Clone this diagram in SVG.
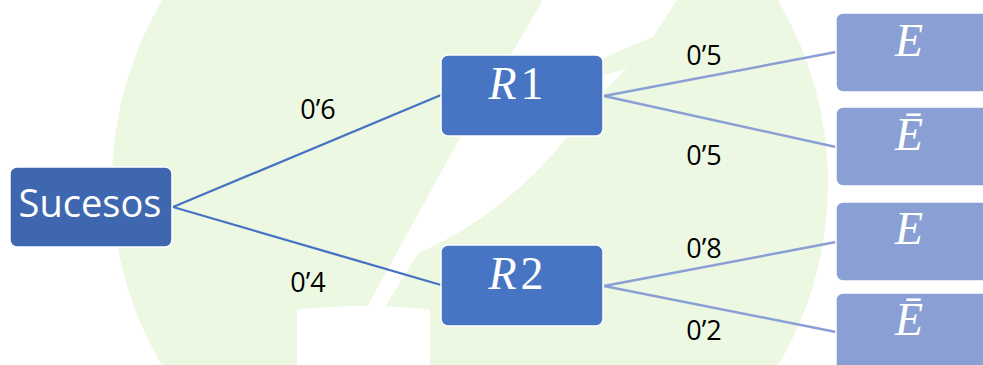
<svg xmlns="http://www.w3.org/2000/svg" width="983" height="365" viewBox="0 0 983 365">
  <style>
    .bg { fill: #EDF8E2; }
    .cut { fill: #FFFFFF; }
    .main { fill: #3F67B0; stroke: #FFFFFF; stroke-width: 1.5; }
    .mid { fill: #4775C4; stroke: #FFFFFF; stroke-width: 1.5; }
    .leaf { fill: #8A9FD4; stroke: #FFFFFF; stroke-width: 1.5; }
    .c1 { stroke: #4472C4; stroke-width: 2.3; fill: none; }
    .c2 { stroke: #8A9FD4; stroke-width: 2.5; fill: none; }
    .lbl { font-family: "Open Sans", "Noto Sans", sans-serif; font-size: 27px; fill: #000000; text-anchor: middle; }
    .suc { font-family: "Open Sans", "Noto Sans", sans-serif; font-size: 38px; fill: #FFFFFF; text-anchor: middle; }
    .math { font-family: "Liberation Serif", "DejaVu Serif", serif; font-size: 46px; fill: #FFFFFF; text-anchor: middle; }
    .it { font-style: italic; }
  </style>
  <rect x="0" y="0" width="983" height="365" fill="#FFFFFF"/>
  <g id="watermark">
    <circle class="bg" cx="470" cy="183" r="358"/>
    <path class="cut" d="M543,0 L677,0 L653,37 L603,58 L598,60 L598,77 L627,68 L603,92 L598,94 L598,137 L567,137 Q505,215 418,253 L385,307 L367,307 L460,138 L512,53 Z"/>
    <path class="cut" d="M297,366 L297,310 Q363,302 430,310 L430,366 Z"/>
  </g>
  <g id="connectors">
    <line class="c1" x1="173" y1="207" x2="441" y2="95"/>
    <line class="c1" x1="173" y1="207" x2="441" y2="285"/>
    <line class="c2" x1="604" y1="96" x2="836" y2="52"/>
    <line class="c2" x1="604" y1="96" x2="836" y2="147"/>
    <line class="c2" x1="604" y1="286" x2="836" y2="242"/>
    <line class="c2" x1="604" y1="286" x2="836" y2="332"/>
    <text class="lbl" x="318" y="119">0’6</text>
    <text class="lbl" x="308" y="292">0’4</text>
    <text class="lbl" x="704" y="65">0’5</text>
    <text class="lbl" x="704" y="165">0’5</text>
    <text class="lbl" x="704" y="258">0’8</text>
    <text class="lbl" x="704" y="340">0’2</text>
  </g>
  <g id="node-sucesos">
    <rect class="main" x="10" y="167" width="162" height="80" rx="7"/>
    <text class="suc" x="90" y="217">Sucesos</text>
  </g>
  <g id="node-r1">
    <rect class="mid" x="441" y="55" width="162" height="81" rx="7"/>
    <text class="math" x="516" y="99"><tspan class="it">R</tspan><tspan dx="4">1</tspan></text>
  </g>
  <g id="node-r2">
    <rect class="mid" x="441" y="245" width="162" height="81" rx="7"/>
    <text class="math" x="516" y="289"><tspan class="it">R</tspan><tspan dx="4">2</tspan></text>
  </g>
  <g id="node-e1">
    <rect class="leaf" x="836" y="13" width="160" height="79" rx="7"/>
    <text class="math it" x="909" y="56">E</text>
  </g>
  <g id="node-e2">
    <rect class="leaf" x="836" y="107" width="160" height="79" rx="7"/>
    <text class="math it" x="909" y="150">Ē</text>
  </g>
  <g id="node-e3">
    <rect class="leaf" x="836" y="202" width="160" height="79" rx="7"/>
    <text class="math it" x="909" y="244">E</text>
  </g>
  <g id="node-e4">
    <rect class="leaf" x="836" y="293" width="160" height="90" rx="7"/>
    <text class="math it" x="909" y="335">Ē</text>
  </g>
</svg>
